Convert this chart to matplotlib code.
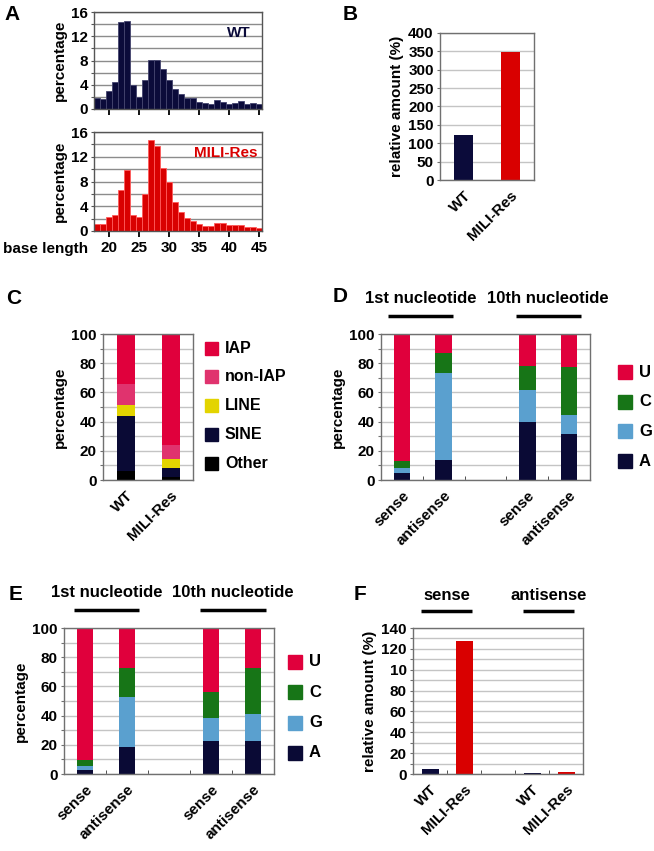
import matplotlib
matplotlib.use('Agg')
import matplotlib.pyplot as plt
from matplotlib.patches import Rectangle
from matplotlib.transforms import blended_transform_factory
import numpy as np

# ---------------- data ----------------
lengths = list(range(18, 46))
wt_pct = [1.8, 1.7, 2.9, 4.5, 14.4, 14.5, 3.9, 2.05, 4.8, 8.05, 8.05, 6.6, 4.8, 3.35,
          2.4, 1.8, 1.8, 1.1, 1.0, 0.8, 1.45, 1.1, 0.75, 1.0, 1.25, 0.75, 1.0, 0.75]
mili_pct = [1.1, 1.1, 2.3, 2.6, 6.7, 9.9, 2.6, 2.2, 6.0, 14.7, 13.8, 10.2, 8.0, 4.65,
            3.0, 2.05, 1.6, 1.1, 0.85, 0.75, 1.25, 1.25, 0.97, 0.97, 0.97, 0.7, 0.65, 0.55]
length_ticks = [20, 25, 30, 35, 40, 45]

genotypes = ['WT', 'MILI-Res']
relative_amount = [122, 348]

repeat_classes = ['IAP', 'non-IAP', 'LINE', 'SINE', 'Other']
repeat_wt = {'Other': 6, 'SINE': 38, 'LINE': 7.5, 'non-IAP': 14, 'IAP': 34.5}
repeat_mili = {'Other': 2, 'SINE': 6.5, 'LINE': 6, 'non-IAP': 9.5, 'IAP': 76}

strand_labels = ['sense', 'antisense', 'sense', 'antisense']
nucleotides = ['U', 'C', 'G', 'A']
d_A = [5, 13.7, 40, 31.3]
d_G = [3, 59.8, 21.6, 13.2]
d_C = [5.2, 13.3, 16.7, 33.1]
d_U = [86.8, 13.2, 21.7, 22.4]
e_A = [3, 18.2, 22.7, 22.3]
e_G = [2.7, 34.8, 15.9, 18.8]
e_C = [4.1, 19.7, 17.5, 31.2]
e_U = [90.2, 27.3, 43.9, 27.7]

f_labels = ['WT', 'MILI-Res', 'WT', 'MILI-Res']
f_values = [5.1, 128, 0.7, 2.2]
f_ticklabels = ['0', '20', '40', '60', '80', '10', '120', '140']

# ---------------- style ----------------
plt.rcParams['font.family'] = ['Liberation Sans', 'DejaVu Sans']
plt.rcParams['font.weight'] = 'bold'
NAVY = '#0b0b3a'
RED = '#d90000'
IAP_C = '#e0003c'
NONIAP_C = '#e0336e'
LINE_C = '#e3d400'
OTHER_C = '#000000'
U_C = '#e0003c'
C_C = '#177517'
G_C = '#5aa0cf'
A_C = '#0a0a35'
GRID = '#c4c4c4'
SPINE = '#707070'
FS = 11
NARROW = ['Liberation Sans Narrow', 'Liberation Sans', 'DejaVu Sans']

W, H = 654, 851
fig = plt.figure(figsize=(W / 100, H / 100), dpi=100)


def px_axes(x0, y0, x1, y1):
    return fig.add_axes([x0 / W, 1 - y1 / H, (x1 - x0) / W, (y1 - y0) / H])


def ftext(x, y, s, **kw):
    kw.setdefault('fontweight', 'bold')
    fig.text(x / W, 1 - y / H, s, **kw)


def style(ax, ymax, major, minor, grid=GRID, spine=SPINE):
    ax.set_ylim(0, ymax)
    ax.set_yticks(np.arange(0, ymax + 0.01, major))
    ax.set_yticks(np.arange(0, ymax + 0.01, minor), minor=True)
    ax.yaxis.grid(True, which='both', color=grid, lw=1)
    ax.set_axisbelow(True)
    for s in ax.spines.values():
        s.set_color(spine)
        s.set_linewidth(1.0)
    ax.tick_params(axis='y', which='both', direction='out', length=2.5, width=0.8,
                   color=spine, labelsize=FS, pad=2)


def header(ax, xc, text, half, ytext, yline, fontsize=12):
    tr = blended_transform_factory(ax.transData, ax.transAxes)
    ax.text(xc, ytext, text, transform=tr, ha='center', va='center',
            fontsize=fontsize, fontweight='bold', family=NARROW, clip_on=False)
    ax.plot([xc - half, xc + half], [yline, yline], color='black', lw=2.5,
            transform=tr, clip_on=False, solid_capstyle='butt')


def legend_manual(items, x_sq, y_first, pitch, size=13, fs=11.5):
    for i, (lab, col) in enumerate(items):
        yc = y_first + i * pitch
        fig.patches.append(Rectangle(((x_sq) / W, 1 - (yc + size / 2) / H), size / W, size / H,
                                     transform=fig.transFigure, color=col, figure=fig))
        ftext(x_sq + size + 7, yc, lab, fontsize=fs, va='center', ha='left')


# ---------------- Panel A ----------------
for (y0, y1, vals, col, edge, name, ncol, ny) in [
        (12, 109, wt_pct, NAVY, '#44446e', 'WT', NAVY, 33),
        (132, 231, mili_pct, RED, '#ff5a5a', 'MILI-Res', RED, 153)]:
    ax = px_axes(94, y0, 262, y1)
    ax.bar(lengths, vals, width=1.0, color=col, edgecolor=edge, lw=0.6, zorder=2)
    style(ax, 16, 4, 2, grid='#8c8c8c', spine='#555555')
    ax.set_xlim(17.5, 45.5)
    ax.set_xticks(length_ticks)
    ax.tick_params(axis='x', direction='out', length=4, width=1.3, color='black',
                   labelsize=FS, pad=3)
    ax.set_ylabel('percentage', fontsize=FS, fontweight='bold', labelpad=3)
    ax.text(0.86 if name == 'WT' else 0.785, (y1 - ny) / (y1 - y0), name,
            transform=ax.transAxes, color=ncol, fontsize=11, fontweight='bold',
            ha='center', va='center')
    if name == 'WT':
        ax.set_xticklabels([])
    else:
        ax.set_xticklabels([str(t) for t in length_ticks], fontweight='bold')
ftext(46, 249, 'base length', fontsize=FS, ha='center', va='center')
ftext(12, 15, 'A', fontsize=15, ha='center', va='center')

# ---------------- Panel B ----------------
ax = px_axes(440, 33, 534, 180)
ax.bar([0, 1], relative_amount, width=0.4, color=[NAVY, RED], zorder=2)
style(ax, 400, 50, 50)
ax.set_xlim(-0.5, 1.5)
ax.set_xticks([0, 1])
ax.set_xticklabels(genotypes, rotation=45, ha='right', rotation_mode='anchor',
                   fontsize=FS, fontweight='bold')
ax.tick_params(axis='x', length=0, pad=6)
ax.set_ylabel('relative amount (%)', fontsize=FS, fontweight='bold', labelpad=3)
ftext(350, 15, 'B', fontsize=15, ha='center', va='center')

# ---------------- Panel C ----------------
ax = px_axes(103, 334, 193, 480)
colors_c = {'IAP': IAP_C, 'non-IAP': NONIAP_C, 'LINE': LINE_C, 'SINE': A_C, 'Other': OTHER_C}
bottom = np.zeros(2)
for cls in ['Other', 'SINE', 'LINE', 'non-IAP', 'IAP']:
    v = np.array([repeat_wt[cls], repeat_mili[cls]])
    ax.bar([0, 1], v, bottom=bottom, width=0.4, color=colors_c[cls], zorder=2)
    bottom += v
style(ax, 100, 20, 10)
ax.set_xlim(-0.5, 1.5)
ax.set_xticks([0, 1])
ax.set_xticklabels(genotypes, rotation=45, ha='right', rotation_mode='anchor',
                   fontsize=FS, fontweight='bold')
ax.tick_params(axis='x', length=0, pad=6)
ax.set_ylabel('percentage', fontsize=FS, fontweight='bold', labelpad=3)
legend_manual([(c, colors_c[c]) for c in repeat_classes], 205, 348, 28.75)
ftext(14, 298, 'C', fontsize=15, ha='center', va='center')


# ---------------- Panels D & E ----------------
def nuc_panel(box, A, G, C, U, hdr, leg):
    ax = px_axes(*box)
    pos = [0, 1, 3, 4]
    bottom = np.zeros(4)
    for vals, col in [(A, A_C), (G, G_C), (C, C_C), (U, U_C)]:
        v = np.array(vals, dtype=float)
        ax.bar(pos, v, bottom=bottom, width=0.4, color=col, zorder=2)
        bottom += v
    style(ax, 100, 20, 10)
    ax.set_xlim(-0.5, 4.5)
    ax.set_xticks(pos)
    ax.set_xticklabels(strand_labels, rotation=45, ha='right', rotation_mode='anchor',
                       fontsize=FS, fontweight='bold')
    ax.set_xticks([0.5, 1.5, 2.5, 3.5], minor=True)
    ax.tick_params(axis='x', which='major', length=0, pad=6)
    ax.tick_params(axis='x', which='minor', direction='in', length=3, color='#333333')
    ax.set_ylabel('percentage', fontsize=FS, fontweight='bold', labelpad=3)
    for xc, txt in hdr:
        header(ax, xc, txt, 0.78, 1.245, 1.125)
    legend_manual([('U', U_C), ('C', C_C), ('G', G_C), ('A', A_C)], *leg)
    return ax


nuc_panel((381, 334, 590, 480), d_A, d_G, d_C, d_U,
          [(0.45, '1st nucleotide'), (3.5, '10th nucleotide')], (618, 372, 29.7, 14, 12))
ftext(340, 297, 'D', fontsize=15, ha='center', va='center')

nuc_panel((64, 628, 274, 774), e_A, e_G, e_C, e_U,
          [(0.51, '1st nucleotide'), (3.52, '10th nucleotide')], (288, 662, 30.3, 14, 12))
ftext(16, 595, 'E', fontsize=15, ha='center', va='center')

# ---------------- Panel F ----------------
ax = px_axes(413, 628, 583, 774)
pos = [0, 1, 3, 4]
ax.bar(pos, f_values, width=0.5, color=[NAVY, RED, NAVY, RED], zorder=2)
style(ax, 140, 20, 10)
ax.set_yticklabels(f_ticklabels)
ax.set_xlim(-0.5, 4.5)
ax.set_xticks(pos)
ax.set_xticklabels(f_labels, rotation=45, ha='right', rotation_mode='anchor',
                   fontsize=FS, fontweight='bold')
ax.set_xticks([0.5, 1.5, 2.5, 3.5], minor=True)
ax.tick_params(axis='x', which='major', length=0, pad=6)
ax.tick_params(axis='x', which='minor', direction='in', length=3, color='#333333')
ax.set_ylabel('relative amount (%)', fontsize=FS, fontweight='bold', labelpad=3)
header(ax, 0.49, 'sense', 0.75, 1.225, 1.116)
header(ax, 3.49, 'antisense', 0.75, 1.225, 1.116)
ftext(360, 595, 'F', fontsize=15, ha='center', va='center')

fig.savefig('out.png', dpi=100)
